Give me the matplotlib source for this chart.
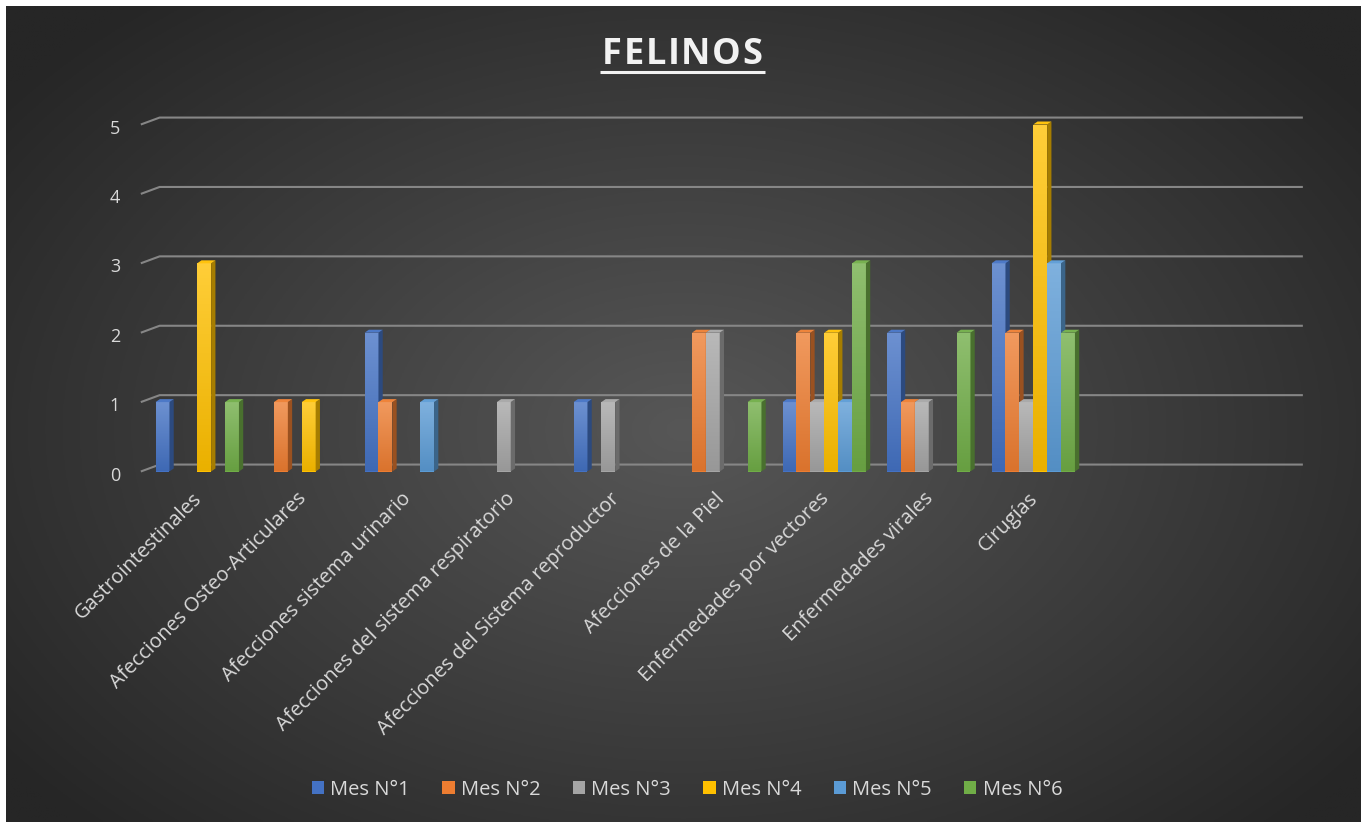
import numpy as np
import matplotlib
matplotlib.use("Agg")
import matplotlib.pyplot as plt
from matplotlib.patches import Patch, Polygon
from matplotlib.lines import Line2D
from matplotlib.colors import to_rgb

plt.rcParams['font.family'] = ['Open Sans', 'DejaVu Sans']

categories = ['Gastrointestinales', 'Afecciones Osteo-Articulares', 'Afecciones sistema urinario',
              'Afecciones del sistema respiratorio', 'Afecciones del Sistema reproductor',
              'Afecciones de la Piel', 'Enfermedades por vectores', 'Enfermedades virales',
              'Cirugías', '', '']
series_names = ['Mes N°1', 'Mes N°2', 'Mes N°3', 'Mes N°4', 'Mes N°5', 'Mes N°6']
mes1 = [1, 0, 2, 0, 1, 0, 1, 2, 3, 0, 0]
mes2 = [0, 1, 1, 0, 0, 2, 2, 1, 2, 0, 0]
mes3 = [0, 0, 0, 1, 1, 2, 1, 1, 1, 0, 0]
mes4 = [3, 1, 0, 0, 0, 0, 2, 0, 5, 0, 0]
mes5 = [0, 0, 1, 0, 0, 0, 1, 0, 3, 0, 0]
mes6 = [1, 0, 0, 0, 0, 1, 3, 2, 2, 0, 0]
series = [mes1, mes2, mes3, mes4, mes5, mes6]
colors = ['#4472C4', '#ED7D31', '#A5A5A5', '#FFC000', '#5B9BD5', '#70AD47']
yticks = [0, 1, 2, 3, 4, 5]

W, H = 1361, 822
fig = plt.figure(figsize=(W / 100, H / 100), dpi=100, facecolor='white')

# radial dark background
bg = fig.add_axes([6 / W, 0, 1 - 6 / W, 1 - 6 / H], zorder=-10)
yy, xx = np.mgrid[0:1:300j, 0:1:500j]
r = np.sqrt(((xx - 0.5) / 0.5) ** 2 + ((yy - 0.52) / 0.55) ** 2)
t = np.clip(r / 1.25, 0, 1)
c_in = np.array(to_rgb('#575757'))
c_out = np.array(to_rgb('#262626'))
img = c_in[None, None, :] * (1 - t[..., None]) + c_out[None, None, :] * t[..., None]
bg.imshow(img, aspect='auto', extent=(0, 1, 0, 1))
bg.axis('off')

# plot area
y0px, y1px = 471.5, 100
ppu = 69.4
ax = fig.add_axes([145 / W, 1 - y0px / H, 1149.5 / W, (y0px - y1px) / H])
ax.patch.set_alpha(0)
ymax = (y0px - y1px) / ppu
for s in ax.spines.values():
    s.set_visible(False)

n = len(series)
w = 0.133
margin = (1 - n * w) / 2
dx, dy = 0.041, 0.043
x = np.arange(len(categories))

# back wall gridlines with perspective stub
for v in yticks:
    ax.plot([-0.04, 0.14, 11.08], [v, v + 0.1, v + 0.1], color='#868686', lw=1.5,
            clip_on=False, zorder=1, solid_capstyle='butt')
    ax.text(-0.287, v - 0.06, str(v), ha='center', va='center', fontsize=13,
            color='#d9d9d9', clip_on=False)


def shade(c, f):
    c = np.array(to_rgb(c))
    if f > 0:
        return c + (1 - c) * f
    return c * (1 + f)


for j, (vals, col) in enumerate(zip(series, colors)):
    z = 3 + j * 0.1
    bars = ax.bar(x + margin + j * w, vals, width=w, align='edge', color=col,
                  linewidth=0, zorder=z)
    grad = np.linspace(0, 1, 64)[:, None]
    top_c, bot_c = shade(col, 0.22), shade(col, -0.08)
    gimg = top_c[None, None, :] * (1 - grad[..., None]) + bot_c[None, None, :] * grad[..., None]
    for b, v in zip(bars, vals):
        if v <= 0:
            continue
        xa, xb = b.get_x(), b.get_x() + b.get_width()
        im = ax.imshow(gimg, extent=(xa, xb, 0, v), aspect='auto', zorder=z + 0.01)
        im.set_clip_path(b)
        ax.add_patch(Polygon([(xb, 0), (xb + dx, dy), (xb + dx, v + dy), (xb, v)],
                             closed=True, color=shade(col, -0.35), lw=0, zorder=z + 0.02))
        ax.add_patch(Polygon([(xa, v), (xa + dx, v + dy), (xb + dx, v + dy), (xb, v)],
                             closed=True, color=shade(col, 0.05), lw=0, zorder=z + 0.02))

for i, lab in enumerate(categories):
    ax.text(i + 0.5 - 0.05, -0.25, lab, rotation=45, ha='right', va='top',
            rotation_mode='anchor', fontsize=14.5, color='#d9d9d9', clip_on=False)

ax.set_xlim(0, len(categories))
ax.set_ylim(0, ymax)
ax.set_xticks([])
ax.set_yticks([])

# title, letter-spaced, with underline
renderer = fig.canvas.get_renderer()
title_txt = 'FELINOS'
tkw = dict(fontsize=26, fontweight='bold', color='#f2f2f2')
widths = []
for ch in title_txt:
    tt = fig.text(0, 0, ch, **tkw)
    widths.append(tt.get_window_extent(renderer).width)
    tt.remove()
total = 160
gap = (total - sum(widths)) / (len(title_txt) - 1)
xpos = 602
for ch, cw in zip(title_txt, widths):
    fig.text(xpos / W, 1 - 63.5 / H, ch, ha='left', va='baseline', **tkw)
    xpos += cw + gap
fig.add_artist(Line2D([600 / W, 765 / W], [1 - 72 / H, 1 - 72 / H],
                      color='#f2f2f2', lw=2.2, solid_capstyle='butt'))

handles = [Patch(facecolor=c, edgecolor='none') for c in colors]
fig.legend(handles, series_names, loc='center', bbox_to_anchor=(687 / W, 1 - 790 / H),
           ncol=6, frameon=False, fontsize=14.5, labelcolor='#d9d9d9',
           handlelength=0.62, handleheight=0.62, handletextpad=0.3, columnspacing=1.6)

fig.savefig('out.png', dpi=100, facecolor=fig.get_facecolor())
